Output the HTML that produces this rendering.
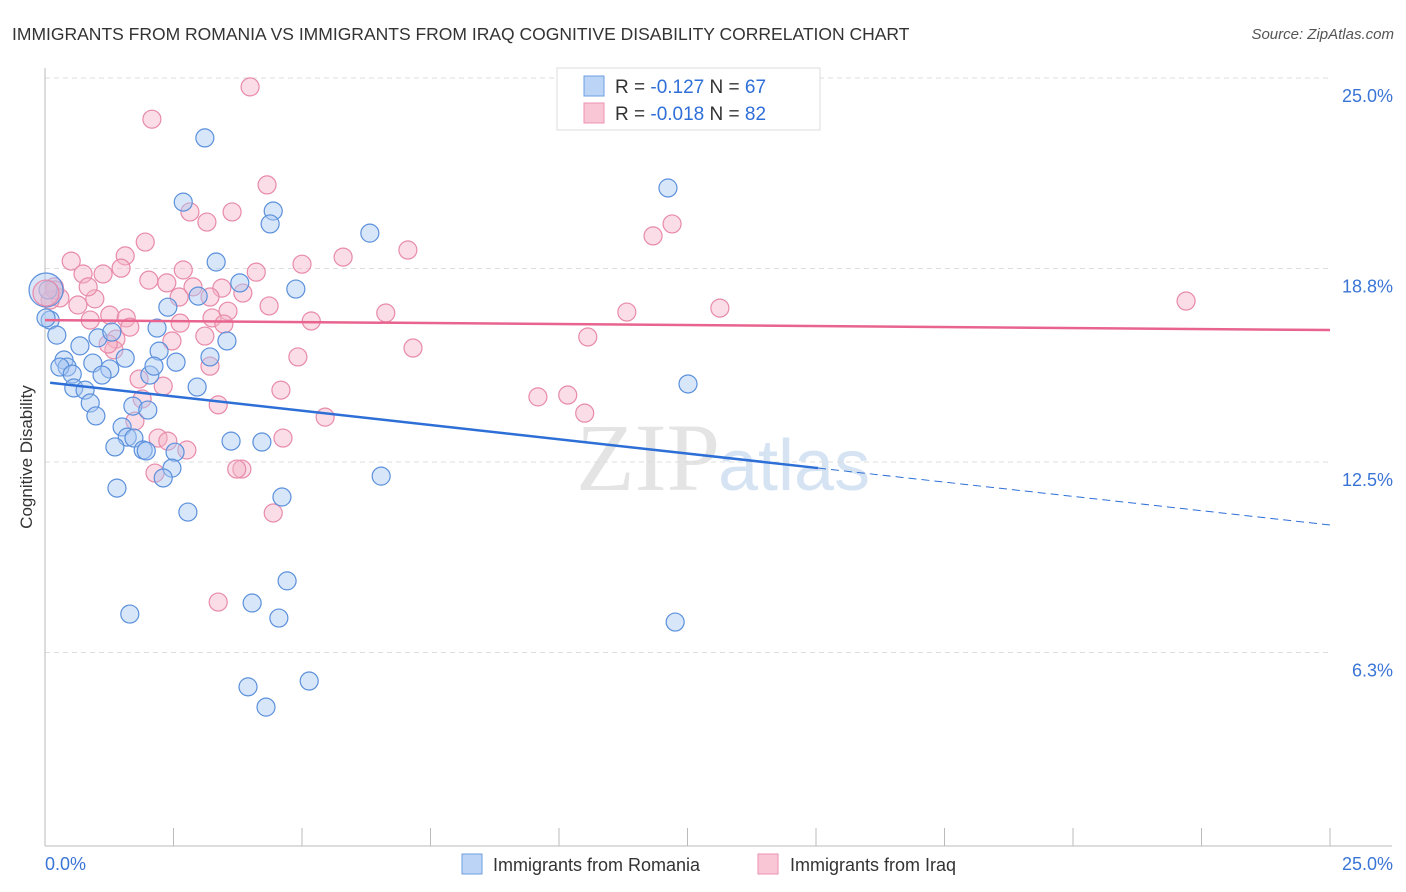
<!DOCTYPE html>
<html><head><meta charset="utf-8"><style>
body{margin:0;background:#fff;font-family:"Liberation Sans",sans-serif;}
svg{display:block}
</style></head><body>
<svg id="chart" width="1406" height="892">
<text x="12" y="40" font-size="17.5" fill="#333">IMMIGRANTS FROM ROMANIA VS IMMIGRANTS FROM IRAQ COGNITIVE DISABILITY CORRELATION CHART</text>
<text x="1394" y="39" font-size="15" fill="#555" font-style="italic" text-anchor="end">Source: ZipAtlas.com</text>
<text x="32" y="457" font-size="17" fill="#333" text-anchor="middle" transform="rotate(-90 32 457)">Cognitive Disability</text>
<text x="720" y="490" font-size="96" fill="#e4e4e4" font-family="Liberation Serif,serif" text-anchor="end">ZIP</text>
<text x="718" y="490" font-size="72" fill="#d5e3f3">atlas</text>
<g id="grid"></g><g id="marks"></g>
<g>
<rect x="557" y="68" width="263" height="62" fill="#fff" stroke="#ddd"/>
<rect x="584" y="76" width="20" height="20" fill="#bcd4f6" stroke="#6d9ee0"/>
<rect x="584" y="103" width="20" height="20" fill="#f9c6d6" stroke="#ec93b0"/>
<text x="615" y="93" font-size="19" fill="#333">R = <tspan fill="#2f6fd8">-0.127</tspan>   N = <tspan fill="#2f6fd8">67</tspan></text>
<text x="615" y="120" font-size="19" fill="#333">R = <tspan fill="#2f6fd8">-0.018</tspan>   N = <tspan fill="#2f6fd8">82</tspan></text>
</g>
<g>
<rect x="462" y="854" width="20" height="20" fill="#bcd4f6" stroke="#6d9ee0"/>
<text x="493" y="871" font-size="18" fill="#333">Immigrants from Romania</text>
<rect x="758" y="854" width="20" height="20" fill="#f9c6d6" stroke="#ec93b0"/>
<text x="790" y="871" font-size="18" fill="#333">Immigrants from Iraq</text>
</g>
</svg>
<script>
const yTicks=[25.0,18.8,12.5,6.3];
const yTickLabels=["25.0%","18.8%","12.5%","6.3%"];
const xTickLabels=["0.0%","25.0%"];
const blueX=[3.11,2.69,4.44,4.38,6.32,3.33,3.79,4.88,2.98,2.39,2.18,3.54,0.10,0.23,0.68,1.03,1.30,2.22,2.55,3.21,1.56,1.26,0.37,0.43,0.93,0.29,0.53,1.11,2.04,2.12,2.96,0.56,0.78,0.88,0.99,1.71,2.00,1.50,1.60,1.73,1.91,1.97,1.36,2.53,3.62,4.22,2.47,2.30,6.54,1.40,4.61,2.78,4.71,4.03,4.55,1.65,3.95,5.14,4.30,12.26,12.12,12.51,0.06,0.02];
const blueY=[23.05,20.96,20.67,20.25,19.95,19.01,18.33,18.13,17.90,17.54,16.86,16.44,17.12,16.63,16.28,16.54,16.73,16.11,15.75,15.92,15.88,15.53,15.82,15.59,15.72,15.59,15.36,15.33,15.33,15.62,14.94,14.91,14.84,14.42,14.00,14.32,14.19,13.64,13.31,13.28,12.89,12.86,12.99,12.82,13.18,13.15,12.30,11.98,12.04,11.65,11.36,10.87,8.63,7.91,7.42,7.55,5.18,5.37,4.52,7.29,21.42,15.04,18.10,17.19];
const pinkX=[3.99,2.08,4.32,3.64,2.82,3.15,1.95,1.56,2.69,0.51,0.74,1.13,1.48,2.02,2.37,2.88,3.44,4.11,5.00,5.80,7.06,11.83,12.20,0.18,0.29,0.64,0.97,0.84,0.88,1.26,1.58,1.65,2.61,3.21,3.85,3.56,3.25,2.63,3.48,4.36,5.18,6.63,3.11,2.47,1.38,1.34,1.23,4.92,7.16,3.21,1.83,2.30,1.89,4.59,3.37,1.75,5.45,2.20,2.39,2.76,4.63,2.14,3.83,3.73,4.44,3.37,9.59,10.17,10.50,10.56,11.32,13.13,22.20,0.10,0.19];
const pinkY=[24.71,23.66,21.52,20.64,20.64,20.31,19.66,19.21,18.75,19.04,18.62,18.62,18.81,18.42,18.33,18.20,18.16,18.68,18.94,19.17,19.40,19.86,20.25,18.20,17.84,17.61,17.81,18.20,17.12,17.28,17.19,16.89,17.87,17.87,18.00,17.41,17.19,17.02,16.99,17.58,17.09,17.35,16.60,16.44,16.50,16.15,16.34,15.92,16.21,15.62,15.20,14.97,14.55,14.84,14.36,13.83,13.96,13.28,13.18,12.89,13.28,12.14,12.27,12.27,10.84,7.94,14.62,14.68,14.09,16.57,17.38,17.51,17.74,17.77,18.10];
const blueBigX=[0.02], blueBigY=[18.1];
const pinkBigX=[0.02], pinkBigY=[18.0];
const blueFit=[15.10,-0.186], blueSolidEnd=15.04;
const pinkFit=[17.12,-0.013];
const X=v=>45+v/25*1285, Y=v=>846-v/25*768;
const NS="http://www.w3.org/2000/svg";
const grid=document.getElementById('grid'), marks=document.getElementById('marks'), svg=document.getElementById('chart');
function mk(tag,attrs,parent){const e=document.createElementNS(NS,tag);for(const k in attrs)e.setAttribute(k,attrs[k]);parent.appendChild(e);return e;}
yTicks.forEach((t,i)=>{
 const l=mk('line',{x1:45,x2:1330,y1:Y(t),y2:Y(t),stroke:'#ddd','stroke-dasharray':'5,4'},grid);
 
 
 const tx=mk('text',{x:1393,y:Y(t)+24,'font-size':18,fill:'#3a75d6','text-anchor':'end'},grid);
 tx.textContent=yTickLabels[i];
 
 
});
const ax=mk('line',{x1:45,x2:45,y1:68,y2:846,stroke:'#bbb'},grid);


const bx=mk('line',{x1:45,x2:1392,y1:846,y2:846,stroke:'#bbb'},grid);


for(let i=0;i<=10;i++){const v=i*2.5;const t=mk('line',{x1:X(v),x2:X(v),y1:828,y2:846,stroke:'#bbb'},grid);
 
 }
[[0,45,'start'],[25,1393,'end']].forEach((a,i)=>{const t=mk('text',{x:a[1],y:870,'font-size':18,fill:'#3a75d6','text-anchor':a[2]},grid);t.textContent=xTickLabels[i];
 
 });
function pts(xs,ys,r,fill,stroke,name){xs.forEach((x,i)=>{const c=mk('circle',{cx:X(x),cy:Y(ys[i]),r:r,fill:fill,'fill-opacity':0.45,stroke:stroke,'stroke-width':1.2},marks);
 
 });}
pts(pinkX,pinkY,9,'#f5b3c8','#e88aa9','point-iraq');
pts(blueX,blueY,9,'#a9c8f1','#5b90dc','point-romania');
pts(blueBigX,blueBigY,17,'#a9c8f1','#5b90dc','point-romania-large');
pts(pinkBigX,pinkBigY,13,'#f5b3c8','#e88aa9','point-iraq-large');
const fb=v=>blueFit[0]+blueFit[1]*v, fp=v=>pinkFit[0]+pinkFit[1]*v;
const l1=mk('line',{x1:X(0.1),y1:Y(fb(0.1)),x2:X(blueSolidEnd),y2:Y(fb(blueSolidEnd)),stroke:'#2d6fd6','stroke-width':2.5},marks);


const l2=mk('line',{x1:X(blueSolidEnd),y1:Y(fb(blueSolidEnd)),x2:X(25),y2:Y(fb(25)),stroke:'#2d6fd6','stroke-width':1,'stroke-dasharray':'8,5'},marks);


const l3=mk('line',{x1:X(0),y1:Y(fp(0)),x2:X(25),y2:Y(fp(25)),stroke:'#e8648f','stroke-width':2.5},marks);


</script>
</body></html>
